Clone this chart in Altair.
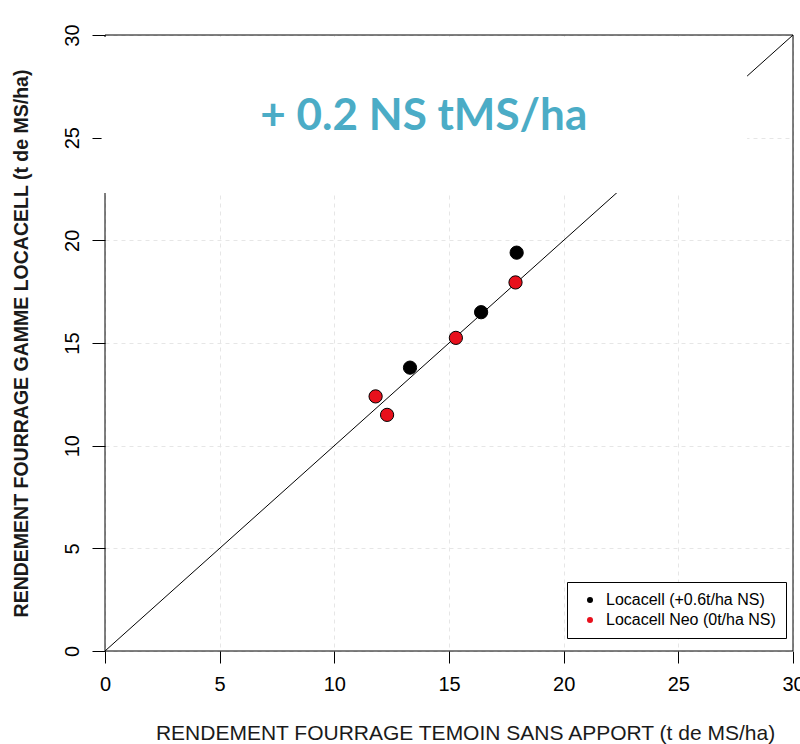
import altair as alt
import pandas as pd

# ---- data ----
loc_x = [13.3, 16.4, 17.95]
loc_y = [13.8, 16.5, 19.4]
neo_x = [11.8, 12.3, 15.3, 17.9]
neo_y = [12.4, 11.5, 15.25, 17.95]
series = ["Locacell (+0.6t/ha NS)", "Locacell Neo (0t/ha NS)"]
colors = ["#000000", "#e8101c"]
ticks = [0, 5, 10, 15, 20, 25, 30]
diag = [0, 30]
annotation = "+ 0.2 NS tMS/ha"
annot_pos = [13.9, 26.0]
mask_x = [-0.15, 28.0]
mask_y = [22.3, 29.9]

x_title = "RENDEMENT FOURRAGE TEMOIN SANS APPORT (t de MS/ha)"
y_title = "RENDEMENT FOURRAGE GAMME LOCACELL (t de MS/ha)"

pts = pd.DataFrame({
    "x": loc_x + neo_x,
    "y": loc_y + neo_y,
    "s": [series[0]] * len(loc_x) + [series[1]] * len(neo_x),
})

FONT = "Liberation Sans"
xs = alt.Scale(domain=[0, 30], nice=False, zero=False)
ys = alt.Scale(domain=[0, 30], nice=False, zero=False)

xaxis = alt.Axis(values=ticks, title=x_title, domain=False, tickSize=12, tickColor="black",
                 labelFontSize=20, labelColor="black", labelFont=FONT, labelPadding=11,
                 labelFlush=False, labelOverlap=False,
                 titleFont=FONT, titleFontSize=21, titleFontWeight="normal", titleColor="#1a1a1a",
                 titlePadding=28, titleX=360, titleAlign="center",
                 grid=True, gridColor="#e6e6e6", gridDash=[4, 4])
yaxis = alt.Axis(values=ticks, title=y_title, domain=False, tickSize=13, tickColor="black",
                 labelFontSize=20, labelColor="black", labelFont=FONT, labelPadding=14,
                 labelFlush=False, labelOverlap=False,
                 labelAngle=270, labelAlign="center", labelBaseline="alphabetic",
                 titleFont=FONT, titleFontSize=19.5, titleFontWeight="bold", titleColor="#1a1a1a",
                 titlePadding=31, grid=True, gridColor="#e6e6e6", gridDash=[4, 4])

base_df = pd.DataFrame({"x": diag, "y": diag})

# diagonal 1:1 line (also carries the axes)
diag_line = alt.Chart(base_df).mark_line(color="black", strokeWidth=1).encode(
    x=alt.X("x:Q", scale=xs, axis=xaxis),
    y=alt.Y("y:Q", scale=ys, axis=yaxis),
)

# left frame edge (partly hidden by mask)
left_frame = alt.Chart(pd.DataFrame({"x": [0], "y": [0], "y2": [30]})).mark_rule(
    color="black", strokeWidth=1).encode(x=alt.X("x:Q", scale=xs), y=alt.Y("y:Q", scale=ys), y2="y2:Q")

# white mask box behind the annotation
mask = alt.Chart(pd.DataFrame({"x": [mask_x[0]], "x2": [mask_x[1]],
                               "y": [mask_y[0]], "y2": [mask_y[1]]})).mark_rect(
    fill="white").encode(
    x=alt.X("x:Q", scale=xs), x2="x2:Q", y=alt.Y("y:Q", scale=ys), y2="y2:Q")

# other frame edges
frame_h = alt.Chart(pd.DataFrame({"x": [0, 0], "x2": [30, 30], "y": [0, 30]})).mark_rule(
    color="black", strokeWidth=1).encode(x=alt.X("x:Q", scale=xs), x2="x2:Q", y=alt.Y("y:Q", scale=ys))
frame_v = alt.Chart(pd.DataFrame({"x": [30], "y": [0], "y2": [30]})).mark_rule(
    color="black", strokeWidth=1).encode(x=alt.X("x:Q", scale=xs), y=alt.Y("y:Q", scale=ys), y2="y2:Q")

points = alt.Chart(pts).mark_point(filled=True, shape="circle", size=175, opacity=1,
                                   stroke="black", strokeWidth=1).encode(
    x=alt.X("x:Q", scale=xs),
    y=alt.Y("y:Q", scale=ys),
    fill=alt.Fill("s:N", scale=alt.Scale(domain=series, range=colors),
                  legend=alt.Legend(title=None, orient="none", legendX=462, legendY=547,
                                    strokeColor="black", fillColor="white", padding=10,
                                    symbolSize=36, symbolStrokeWidth=0, symbolType="circle",
                                    labelFont=FONT, labelFontSize=16, labelColor="black",
                                    labelOffset=8, rowPadding=4, labelLimit=300,
                                    cornerRadius=0, symbolOffset=5)),
)

text = alt.Chart(pd.DataFrame({"x": [annot_pos[0]], "y": [annot_pos[1]], "t": [annotation]})).mark_text(
    font="Lato", fontSize=44, fontWeight="bold", color="#4BACC6", align="center", baseline="middle"
).encode(x=alt.X("x:Q", scale=xs), y=alt.Y("y:Q", scale=ys), text="t:N")

chart = alt.layer(diag_line, left_frame, mask, frame_h, frame_v, points, text).properties(
    width=688, height=616,
    autosize=alt.AutoSizeParams(type="none"),
    padding={"left": 105, "top": 35, "right": 7, "bottom": 93},
    background="white",
).configure_view(stroke=None)

chart.save("out.html", embed_options={"renderer": "svg", "actions": False})
